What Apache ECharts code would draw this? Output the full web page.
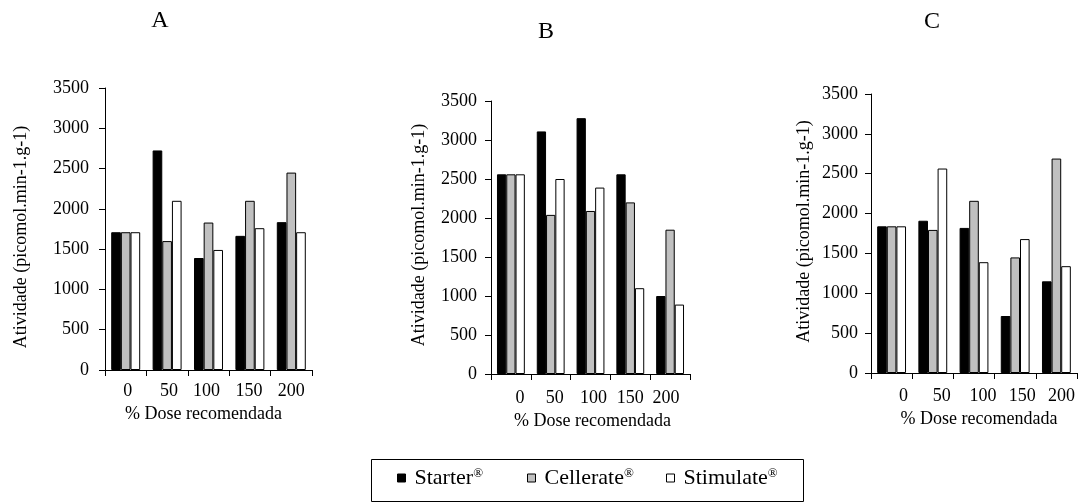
<!DOCTYPE html>
<html>
<head>
<meta charset="utf-8">
<script src="https://cdn.jsdelivr.net/npm/echarts@6/dist/echarts.min.js"></script>
<style>
html,body{margin:0;padding:0;background:#fff;}
#chart{width:1078px;height:504px;}
</style>
</head>
<body>
<div id="chart"></div>
<script>
// ---- data ----
const categories = ['0', '50', '100', '150', '200'];
const seriesNames = ['Starter', 'Cellerate', 'Stimulate'];
const panelTitles = ['A', 'B', 'C'];
const yMin = 0, yMax = 3500, yStep = 500;
const xAxisTitle = '% Dose recomendada';
const yAxisTitle = 'Atividade (picomol.min-1.g-1)';

const starterA   = [1710, 2725, 1390, 1665, 1835];
const cellerateA = [1710, 1600, 1830, 2100, 2450];
const stimulateA = [1710, 2100, 1490, 1760, 1710];

const starterB   = [2560, 3110, 3280, 2560, 1000];
const cellerateB = [2560, 2040, 2090, 2200, 1850];
const stimulateB = [2560, 2500, 2390, 1100, 890];

const starterC   = [1840, 1910, 1820, 715, 1150];
const cellerateC = [1840, 1795, 2160, 1450, 2690];
const stimulateC = [1840, 2565, 1390, 1680, 1340];

// ---- styles / layout ----
const FONT = '"Liberation Serif", "Times New Roman", serif';
const TICK_FS = 18;
const colors = ['#000000', '#c0c0c0', '#ffffff'];
const panels = [
  { grid: {left: 105, top: 88, width: 207, height: 282}, data: [starterA, cellerateA, stimulateA],
    yMargin: 16, xMargin: 12, xShift: [2, 2, -2, -1, 0], xNameGap: 34, xNamePad: [0, 10, 0, 0],
    yNameGap: 75, yNamePad: [0, 16, 0, 0], title: [160, 21] },
  { grid: {left: 491, top: 101, width: 199, height: 273}, data: [starterB, cellerateB, stimulateB],
    yMargin: 14, xMargin: 15, xShift: [9, 4, 3, 0, -4], xNameGap: 36, xNamePad: [0, 0, 0, 4],
    yNameGap: 63, yNamePad: [0, 0, 0, 5], title: [546, 32] },
  { grid: {left: 871, top: 94, width: 206, height: 279}, data: [starterC, cellerateC, stimulateC],
    yMargin: 13, xMargin: 14, xShift: [12, 9, 9, 7, 5], xNameGap: 30, xNamePad: [0, 0, 0, 10],
    yNameGap: 58, yNamePad: [0, 0, 0, 4], title: [932, 22] }
];

const grids = [], xAxes = [], yAxes = [], series = [], graphics = [];
panels.forEach((p, gi) => {
  grids.push(Object.assign({containLabel: false}, p.grid));
  const rich = {};
  p.xShift.forEach((s, i) => {
    rich['p' + i] = {
      fontFamily: FONT, fontSize: TICK_FS, color: '#000',
      padding: s >= 0 ? [0, 0, 0, 2 * s] : [0, -2 * s, 0, 0]
    };
  });
  xAxes.push({
    type: 'category', gridIndex: gi, data: categories,
    axisLine: {lineStyle: {color: '#000', width: 1}},
    axisTick: {show: true, length: 6, lineStyle: {color: '#000'}},
    axisLabel: {
      interval: 0, hideOverlap: false,
      margin: p.xMargin, fontFamily: FONT, fontSize: TICK_FS, color: '#000',
      formatter: (v, i) => '{p' + i + '|' + v + '}', rich: rich
    },
    name: xAxisTitle, nameLocation: 'middle', nameGap: p.xNameGap,
    nameTextStyle: {fontFamily: FONT, fontSize: 18, color: '#000', padding: p.xNamePad},
    splitLine: {show: false}
  });
  yAxes.push({
    type: 'value', gridIndex: gi, min: yMin, max: yMax, interval: yStep,
    axisLine: {show: true, lineStyle: {color: '#000', width: 1}},
    axisTick: {show: true, length: 6, lineStyle: {color: '#000'}},
    axisLabel: {margin: p.yMargin, fontFamily: FONT, fontSize: TICK_FS, color: '#000',
                formatter: v => String(v)},
    splitLine: {show: false},
    name: yAxisTitle, nameLocation: 'middle', nameGap: p.yNameGap,
    nameTextStyle: {fontFamily: FONT, fontSize: 18, color: '#000', padding: p.yNamePad}
  });
  seriesNames.forEach((n, si) => {
    series.push({
      type: 'bar', name: n, xAxisIndex: gi, yAxisIndex: gi,
      data: p.data[si], barGap: '0%', barCategoryGap: '30%',
      itemStyle: {color: colors[si], borderColor: '#000', borderWidth: 1},
      emphasis: {disabled: true}
    });
  });
  graphics.push({
    type: 'text', x: p.title[0], y: p.title[1],
    style: {text: panelTitles[gi], fontFamily: FONT, fontSize: 24, fill: '#000',
            textAlign: 'center', textVerticalAlign: 'middle'}
  });
});

// legend frame
graphics.push({
  type: 'rect', shape: {x: 371.5, y: 459.5, width: 432, height: 42},
  style: {fill: 'none', stroke: '#000', lineWidth: 1}
});

const legendRich = {
  n: {fontFamily: FONT, fontSize: 22, color: '#000', padding: [0, 0, 0, 4]},
  r: {fontFamily: FONT, fontSize: 13, color: '#000', verticalAlign: 'top'}
};
const legendLeft = [397, 527, 666];
const legends = seriesNames.map((n, i) => ({
  data: [n], left: legendLeft[i], top: 467, padding: 0,
  itemWidth: 8, itemHeight: 8, icon: 'rect', selectedMode: false,
  itemStyle: {borderColor: '#000', borderWidth: 1},
  formatter: name => '{n|' + name + '}{r|®}',
  textStyle: {fontFamily: FONT, fontSize: 22, color: '#000', rich: legendRich}
}));

const chart = echarts.init(document.getElementById('chart'), null, {renderer: 'canvas'});
chart.setOption({
  animation: false,
  backgroundColor: '#fff',
  grid: grids, xAxis: xAxes, yAxis: yAxes, series: series,
  legend: legends,
  graphic: graphics
});
</script>
</body>
</html>
